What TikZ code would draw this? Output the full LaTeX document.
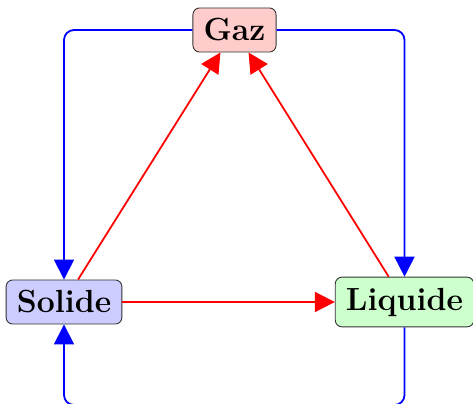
\documentclass[tikz,border=0pt]{standalone}
\usetikzlibrary{arrows.meta,positioning}
\tikzset{
  phasebox/.style={rectangle,rounded corners=3pt,draw=black!80,
                   font=\Large\bfseries,inner sep=4.8pt},
  gaznode/.style={phasebox,fill=red!20},
  solnode/.style={phasebox,fill=blue!20},
  liqnode/.style={phasebox,fill=green!20},
  cyclearr/.style={-{Triangle[length=9pt,width=9pt]},thick,color=blue,
                   rounded corners=4.5pt},
  transarr/.style={-{Triangle[length=9pt,width=9pt]},thick,color=red}
}

\begin{document}
\begin{tikzpicture}[x=0.45pt,y=-0.45pt]
  \useasboundingbox (0,0) rectangle (473,403);

  % Phases
  \node[gaznode] (gaz) at (234.5,30) {Gaz};
  \node[solnode] (solide) at (64,302) {Solide};
  \node[liqnode] (liquide) at (404.5,302) {Liquide};
  \coordinate (bas) at (0,405);

  % Outer loop
  \draw[cyclearr] (gaz.west) -| (solide.north);
  \draw[cyclearr] (gaz.east) -| (liquide.north);
  \draw[cyclearr] (liquide.south) -- (liquide.south |- bas) -| (solide.south);

  % Transitions
  \draw[transarr] (solide) -- (gaz);
  \draw[transarr] (liquide) -- (gaz);
  \draw[transarr] (solide) -- (liquide);

\end{tikzpicture}
\end{document}
